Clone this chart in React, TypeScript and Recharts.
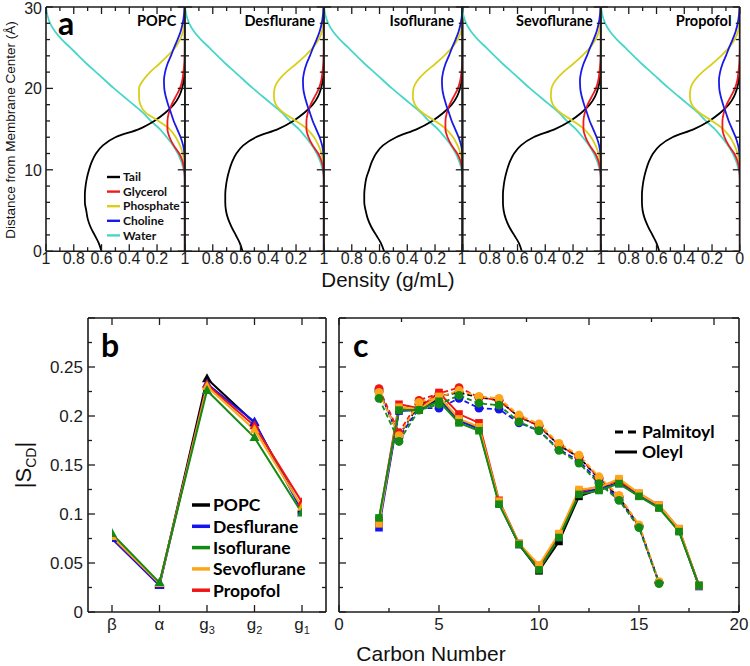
import React from 'react'
import { Line, LineChart, XAxis, YAxis } from 'recharts'

const NUM_FONT = '"Liberation Sans", Arial, Helvetica, sans-serif'
const LABEL_FONT = 'Lato, "Open Sans", sans-serif'
const INK = '#1c1c1c'

// ---------- panel a: density profiles, sampled every 1 Å from the membrane center
const distance = [0, 1, 2, 3, 4, 5, 6, 7, 8, 9, 10, 11, 12, 13, 14, 15, 16, 17, 18, 19, 20, 21, 22, 23, 24, 25, 26, 27, 28, 29, 30]

const waterDensity = [0, 0, 0, 0, 0, 0, 0, 0, 0, 0, 0.008, 0.025, 0.05, 0.085, 0.13, 0.18, 0.245, 0.3, 0.37, 0.44, 0.51, 0.575, 0.64, 0.705, 0.765, 0.825, 0.885, 0.935, 0.97, 0.99, 1.0]
const glycerolDensity = [0, 0, 0, 0, 0, 0, 0, 0, 0, 0, 0.004, 0.015, 0.04, 0.08, 0.11, 0.125, 0.125, 0.115, 0.095, 0.065, 0.035, 0.018, 0.01, 0.004, 0.001, 0, 0, 0, 0, 0, 0]
const cholineDensity = [0, 0, 0, 0, 0, 0, 0, 0, 0, 0, 0, 0, 0.003, 0.012, 0.03, 0.055, 0.08, 0.1, 0.12, 0.137, 0.148, 0.15, 0.142, 0.125, 0.1, 0.077, 0.052, 0.03, 0.015, 0.006, 0.002]
const phosphatePOPC = [0, 0, 0, 0, 0, 0, 0, 0, 0, 0, 0, 0.005, 0.015, 0.035, 0.065, 0.11, 0.19, 0.28, 0.32, 0.33, 0.33, 0.3, 0.25, 0.185, 0.125, 0.07, 0.035, 0.012, 0.003, 0, 0]
const phosphateDrug = [0, 0, 0, 0, 0, 0, 0, 0, 0, 0, 0, 0.005, 0.016, 0.038, 0.07, 0.12, 0.2, 0.29, 0.345, 0.36, 0.355, 0.325, 0.27, 0.2, 0.135, 0.078, 0.038, 0.013, 0.004, 0, 0]

const tailPOPC = [0.6, 0.62, 0.65, 0.68, 0.7, 0.71, 0.72, 0.72, 0.715, 0.705, 0.69, 0.67, 0.64, 0.59, 0.5, 0.33, 0.22, 0.14, 0.08, 0.042, 0.02, 0.008, 0.003, 0, 0, 0, 0, 0, 0, 0, 0]
const tailDesflurane = [0.585, 0.605, 0.635, 0.665, 0.69, 0.705, 0.71, 0.71, 0.705, 0.695, 0.68, 0.66, 0.63, 0.58, 0.49, 0.33, 0.22, 0.14, 0.08, 0.042, 0.02, 0.008, 0.003, 0, 0, 0, 0, 0, 0, 0, 0]
const tailIsoflurane = [0.567, 0.59, 0.625, 0.66, 0.685, 0.7, 0.71, 0.71, 0.705, 0.695, 0.675, 0.655, 0.625, 0.575, 0.48, 0.33, 0.22, 0.14, 0.08, 0.042, 0.02, 0.008, 0.003, 0, 0, 0, 0, 0, 0, 0, 0]
const tailSevoflurane = [0.569, 0.59, 0.625, 0.66, 0.685, 0.7, 0.705, 0.705, 0.7, 0.69, 0.675, 0.655, 0.625, 0.575, 0.485, 0.33, 0.22, 0.14, 0.08, 0.042, 0.02, 0.008, 0.003, 0, 0, 0, 0, 0, 0, 0, 0]
const tailPropofol = [0.58, 0.6, 0.63, 0.66, 0.685, 0.7, 0.705, 0.705, 0.7, 0.69, 0.675, 0.655, 0.625, 0.575, 0.485, 0.33, 0.22, 0.14, 0.08, 0.042, 0.02, 0.008, 0.003, 0, 0, 0, 0, 0, 0, 0, 0]

const densityPanels = [
  { title: 'POPC', tail: tailPOPC, phosphate: phosphatePOPC },
  { title: 'Desflurane', tail: tailDesflurane, phosphate: phosphateDrug },
  { title: 'Isoflurane', tail: tailIsoflurane, phosphate: phosphateDrug },
  { title: 'Sevoflurane', tail: tailSevoflurane, phosphate: phosphateDrug },
  { title: 'Propofol', tail: tailPropofol, phosphate: phosphateDrug },
]

const densityParts = [
  { key: 'tail', name: 'Tail', color: '#000000' },
  { key: 'glycerol', name: 'Glycerol', color: '#ee1c1c' },
  { key: 'phosphate', name: 'Phosphate', color: '#d9cf1a' },
  { key: 'choline', name: 'Choline', color: '#1a1ae6' },
  { key: 'water', name: 'Water', color: '#48d6c8' },
]
const densityDrawOrder = ['water', 'tail', 'phosphate', 'glycerol', 'choline']

const densityTicks = [0, 0.1, 0.2, 0.3, 0.4, 0.5, 0.6, 0.7, 0.8, 0.9, 1]
const distanceTicks = [0, 2, 4, 6, 8, 10, 12, 14, 16, 18, 20, 22, 24, 26, 28, 30]

// ---------- panels b and c: order parameters
const compounds = [
  { name: 'POPC', color: '#000000' },
  { name: 'Desflurane', color: '#1414f0' },
  { name: 'Isoflurane', color: '#138a13' },
  { name: 'Sevoflurane', color: '#ffa51a' },
  { name: 'Propofol', color: '#f01414' },
]
const drawOrderB = ['POPC', 'Desflurane', 'Propofol', 'Sevoflurane', 'Isoflurane']

const headgroupSites = ['β', 'α', 'g3', 'g2', 'g1']
const headPOPC = [0.075, 0.028, 0.238, 0.193, 0.105]
const headDesflurane = [0.075, 0.027, 0.233, 0.194, 0.103]
const headIsoflurane = [0.08, 0.03, 0.226, 0.178, 0.101]
const headSevoflurane = [0.077, 0.029, 0.23, 0.186, 0.107]
const headPropofol = [0.077, 0.029, 0.232, 0.19, 0.112]

const carbons = [2, 3, 4, 5, 6, 7, 8, 9, 10, 11, 12, 13, 14, 15, 16, 17, 18]
const palmitoylPOPC = [0.225, 0.18, 0.212, 0.22, 0.224, 0.219, 0.216, 0.199, 0.19, 0.17, 0.158, 0.136, 0.117, 0.088, 0.03]
const palmitoylDesflurane = [0.227, 0.178, 0.208, 0.208, 0.218, 0.208, 0.207, 0.193, 0.185, 0.166, 0.154, 0.133, 0.115, 0.087, 0.03]
const palmitoylIsoflurane = [0.218, 0.174, 0.206, 0.212, 0.221, 0.213, 0.211, 0.194, 0.185, 0.165, 0.152, 0.131, 0.114, 0.086, 0.029]
const palmitoylSevoflurane = [0.224, 0.18, 0.214, 0.219, 0.226, 0.22, 0.218, 0.201, 0.192, 0.172, 0.16, 0.138, 0.119, 0.089, 0.031]
const palmitoylPropofol = [0.228, 0.183, 0.216, 0.223, 0.229, 0.219, 0.216, 0.199, 0.19, 0.17, 0.158, 0.137, 0.118, 0.088, 0.03]
const oleylPOPC = [0.09, 0.207, 0.206, 0.218, 0.196, 0.188, 0.112, 0.069, 0.042, 0.072, 0.118, 0.125, 0.132, 0.119, 0.107, 0.083, 0.027]
const oleylDesflurane = [0.086, 0.205, 0.206, 0.216, 0.195, 0.187, 0.111, 0.069, 0.044, 0.076, 0.121, 0.126, 0.131, 0.119, 0.107, 0.084, 0.026]
const oleylIsoflurane = [0.096, 0.206, 0.206, 0.215, 0.193, 0.185, 0.11, 0.069, 0.043, 0.076, 0.12, 0.124, 0.131, 0.118, 0.106, 0.082, 0.027]
const oleylSevoflurane = [0.09, 0.209, 0.207, 0.22, 0.197, 0.189, 0.113, 0.07, 0.048, 0.08, 0.125, 0.127, 0.136, 0.121, 0.109, 0.085, 0.027]
const oleylPropofol = [0.094, 0.212, 0.208, 0.224, 0.202, 0.193, 0.114, 0.07, 0.046, 0.079, 0.123, 0.128, 0.134, 0.121, 0.109, 0.085, 0.027]

const headBySeries: Record<string, number[]> = {
  POPC: headPOPC, Desflurane: headDesflurane, Isoflurane: headIsoflurane, Sevoflurane: headSevoflurane, Propofol: headPropofol,
}
const palmitoylBySeries: Record<string, number[]> = {
  POPC: palmitoylPOPC, Desflurane: palmitoylDesflurane, Isoflurane: palmitoylIsoflurane, Sevoflurane: palmitoylSevoflurane, Propofol: palmitoylPropofol,
}
const oleylBySeries: Record<string, number[]> = {
  POPC: oleylPOPC, Desflurane: oleylDesflurane, Isoflurane: oleylIsoflurane, Sevoflurane: oleylSevoflurane, Propofol: oleylPropofol,
}

const orderTicks = [0, 0.025, 0.05, 0.075, 0.1, 0.125, 0.15, 0.175, 0.2, 0.225, 0.25, 0.275, 0.3]
const carbonTicks = [0, 2.5, 5, 7.5, 10, 12.5, 15, 17.5, 20]

// plot boxes (page pixels)
const A = { left: 46, top: 6.5, width: 138.8, height: 244.2 }
const B = { left: 88, top: 318, width: 238, height: 294 }
const C = { left: 339, top: 318, width: 400, height: 294 }

type Side = 'bottom' | 'top' | 'left' | 'right'

// inward tick marks, labels outside the frame
function edgeTick(
  side: Side,
  isMajor: (v: any) => boolean,
  label?: (v: any) => React.ReactNode,
  fontSize = 16,
  gap = 13,
  nudge: (v: any) => number = () => 0,
) {
  return (props: any) => {
    const { x, y, payload } = props
    const v = payload.value
    const len = isMajor(v) ? 7 : 4
    const dx = side === 'left' ? len : side === 'right' ? -len : 0
    const dy = side === 'bottom' ? -len : side === 'top' ? len : 0
    const text = label ? label(v) : null
    return (
      <g>
        <line x1={x} y1={y} x2={x + dx} y2={y + dy} stroke={INK} strokeWidth={1.3} />
        {text != null && side === 'bottom' && (
          <text x={x} y={y + gap} textAnchor="middle" fontFamily={NUM_FONT} fontSize={fontSize} fill={INK}>{text}</text>
        )}
        {text != null && side === 'left' && (
          <text x={x - gap} y={y + nudge(v)} dy="0.36em" textAnchor="end" fontFamily={NUM_FONT} fontSize={fontSize} fill={INK}>{text}</text>
        )}
      </g>
    )
  }
}

// axes are 1px thick so recharts still draws them; margins lose that pixel
const axisBase = { tickSize: 0, tickMargin: 0, interval: 0 as const, allowDataOverflow: true, axisLine: { stroke: INK, strokeWidth: 1.6 }, tickLine: false }

function chartMargin(ml: number, mr: number, mt: number, mb: number) {
  return { left: ml - 1, right: mr - 1, top: mt - 1, bottom: mb - 1 }
}

function DensityPanel({ index }: { index: number }) {
  const panel = densityPanels[index]
  const last = index === densityPanels.length - 1
  const ml = index === 0 ? 44 : 4
  const mr = last ? 10 : 4
  const mt = 6
  const mb = 22
  const rows = distance.map((z, i) => ({
    z,
    tail: panel.tail[i],
    glycerol: glycerolDensity[i],
    phosphate: panel.phosphate[i],
    choline: cholineDensity[i],
    water: waterDensity[i],
  }))
  const densityMajor = (v: number) => Math.round(v * 10) % 2 === 0
  const densityLabel = (v: number) => {
    const t = Math.round(v * 10)
    if (t % 2 !== 0) return null
    if (t === 0) return last ? '0' : null
    return t === 10 ? '1' : String(t / 10)
  }
  const distMajor = (v: number) => v % 10 === 0
  const distLabel = (v: number) => (index === 0 && v % 10 === 0 ? String(v) : null)
  return (
    <div style={{ position: 'absolute', left: A.left + index * A.width - ml, top: A.top - mt }}>
      <LineChart
        layout="vertical"
        width={A.width + ml + mr}
        height={A.height + mt + mb}
        data={rows}
        margin={chartMargin(ml, mr, mt, mb)}
      >
        <XAxis {...axisBase} type="number" domain={[0, 1]} reversed ticks={densityTicks} height={1}
          tick={edgeTick('bottom', densityMajor, densityLabel, 16, 12.5)} />
        <XAxis {...axisBase} xAxisId="top" orientation="top" type="number" domain={[0, 1]} reversed ticks={densityTicks} height={1}
          tick={edgeTick('top', densityMajor)} />
        <YAxis {...axisBase} type="number" dataKey="z" domain={[0, 30]} reversed ticks={distanceTicks} width={1}
          tick={edgeTick('left', distMajor, distLabel, 16, 4, (v) => (v === 30 ? 1.5 : 0))} />
        <YAxis {...axisBase} yAxisId="right" orientation="right" type="number" domain={[0, 30]} reversed ticks={distanceTicks} width={1}
          tick={edgeTick('right', distMajor)} />
        {densityDrawOrder.map((key) => {
          const part = densityParts.find((p) => p.key === key)!
          return (
            <Line key={key} dataKey={key} name={part.name} type="monotone" stroke={part.color} strokeWidth={1.8}
              dot={false} activeDot={false} isAnimationActive={false} />
          )
        })}
      </LineChart>
    </div>
  )
}

const orderMajor = (v: number) => Math.round(v * 1000) % 50 === 0
const orderLabel = (v: number) => {
  const t = Math.round(v * 1000)
  if (t % 50 !== 0 || t === 300) return null
  return t === 0 ? '0' : String(t / 1000)
}

function siteLabel(v: string) {
  if (v.startsWith('g')) {
    return (
      <>
        g<tspan fontSize={11} dy={4}>{v.slice(1)}</tspan>
      </>
    )
  }
  return v
}

const triangleDot = (color: string) => (p: any) => {
  if (p.cx == null || p.cy == null) return <g />
  const { cx, cy } = p
  return <path d={`M${cx},${cy - 5.5} L${cx - 5},${cy + 3.5} L${cx + 5},${cy + 3.5} Z`} fill={color} />
}
const circleDot = (color: string) => (p: any) => {
  if (p.cx == null || p.cy == null) return <g />
  return <circle cx={p.cx} cy={p.cy} r={4.4} fill={color} />
}
const squareDot = (color: string) => (p: any) => {
  if (p.cx == null || p.cy == null) return <g />
  return <rect x={p.cx - 3.8} y={p.cy - 3.8} width={7.6} height={7.6} fill={color} />
}

function HeadgroupPanel() {
  const ml = 50, mr = 6, mt = 6, mb = 26
  const rows = headgroupSites.map((site, i) => {
    const row: Record<string, any> = { site }
    compounds.forEach((c) => { row[c.name] = headBySeries[c.name][i] })
    return row
  })
  const pad = { left: 24, right: 24 }
  return (
    <div style={{ position: 'absolute', left: B.left - ml, top: B.top - mt }}>
      <LineChart width={B.width + ml + mr} height={B.height + mt + mb} data={rows} margin={chartMargin(ml, mr, mt, mb)}>
        <XAxis {...axisBase} type="category" dataKey="site" scale="point" padding={pad} height={1}
          tick={edgeTick('bottom', () => true, siteLabel, 17, 18)} />
        <XAxis {...axisBase} xAxisId="top" orientation="top" type="category" dataKey="site" scale="point" padding={pad} height={1}
          tick={edgeTick('top', () => true)} />
        <YAxis {...axisBase} type="number" domain={[0, 0.3]} ticks={orderTicks} width={1}
          tick={edgeTick('left', orderMajor, orderLabel, 17, 5)} />
        <YAxis {...axisBase} yAxisId="right" orientation="right" type="number" domain={[0, 0.3]} ticks={orderTicks} width={1}
          tick={edgeTick('right', orderMajor)} />
        {drawOrderB.map((name) => {
          const c = compounds.find((x) => x.name === name)!
          return (
            <Line key={name} dataKey={name} type="linear" stroke={c.color} strokeWidth={2}
              dot={triangleDot(c.color)} activeDot={false} isAnimationActive={false} />
          )
        })}
      </LineChart>
    </div>
  )
}

function TailPanel() {
  const ml = 6, mr = 10, mt = 6, mb = 26
  const rows = carbons.map((c, i) => {
    const row: Record<string, any> = { carbon: c }
    compounds.forEach((s) => {
      row[`${s.name}_p`] = palmitoylBySeries[s.name][i]
      row[`${s.name}_o`] = oleylBySeries[s.name][i]
    })
    return row
  })
  const carbonMajor = (v: number) => v % 5 === 0
  const carbonLabel = (v: number) => (v % 5 === 0 ? String(v) : null)
  return (
    <div style={{ position: 'absolute', left: C.left - ml, top: C.top - mt }}>
      <LineChart width={C.width + ml + mr} height={C.height + mt + mb} data={rows} margin={chartMargin(ml, mr, mt, mb)}>
        <XAxis {...axisBase} type="number" dataKey="carbon" domain={[0, 20]} ticks={carbonTicks} height={1}
          tick={edgeTick('bottom', carbonMajor, carbonLabel, 17, 18)} />
        <XAxis {...axisBase} xAxisId="top" orientation="top" type="number" domain={[0, 20]} ticks={carbonTicks} height={1}
          tick={edgeTick('top', carbonMajor)} />
        <YAxis {...axisBase} type="number" domain={[0, 0.3]} ticks={orderTicks} width={1}
          tick={edgeTick('left', orderMajor)} />
        <YAxis {...axisBase} yAxisId="right" orientation="right" type="number" domain={[0, 0.3]} ticks={orderTicks} width={1}
          tick={edgeTick('right', orderMajor)} />
        {drawOrderB.map((name) => {
          const c = compounds.find((x) => x.name === name)!
          return [
            <Line key={`${name}_p`} dataKey={`${name}_p`} type="linear" stroke={c.color} strokeWidth={1.8} strokeDasharray="5 3"
              dot={circleDot(c.color)} activeDot={false} isAnimationActive={false} />,
            <Line key={`${name}_o`} dataKey={`${name}_o`} type="linear" stroke={c.color} strokeWidth={2}
              dot={squareDot(c.color)} activeDot={false} isAnimationActive={false} />,
          ]
        })}
      </LineChart>
    </div>
  )
}

function Annotations() {
  return (
    <svg width={750} height={666} style={{ position: 'absolute', left: 0, top: 0, pointerEvents: 'none' }}>
      {/* panel letters */}
      <text x={58} y={35} fontFamily={LABEL_FONT} fontWeight={700} fontSize={32} fill="#000">a</text>
      <text x={101} y={357} fontFamily={LABEL_FONT} fontWeight={700} fontSize={32} fill="#000">b</text>
      <text x={353} y={357} fontFamily={LABEL_FONT} fontWeight={700} fontSize={32} fill="#000">c</text>

      {/* panel a titles */}
      {densityPanels.map((p, i) => (
        <text key={p.title} x={A.left + (i + 1) * A.width - 8.5} y={26} textAnchor="end"
          fontFamily={LABEL_FONT} fontWeight={700} fontSize={14.5} fill="#000">{p.title}</text>
      ))}

      {/* panel a legend */}
      {densityParts.map((p, i) => (
        <g key={p.key}>
          <line x1={107} x2={120} y1={177 + i * 14.6} y2={177 + i * 14.6} stroke={p.color} strokeWidth={2.4} />
          <text x={123} y={177 + i * 14.6} dy="0.35em" fontFamily={LABEL_FONT} fontWeight={700} fontSize={12} fill="#111">{p.name}</text>
        </g>
      ))}

      {/* axis titles */}
      <text transform="rotate(-90)" x={-130} y={15} textAnchor="middle" fontFamily={NUM_FONT} fontSize={13.5} fill="#111">
        Distance from Membrane Center (Å)
      </text>
      <text x={388} y={287} textAnchor="middle" fontFamily={NUM_FONT} fontSize={20.5} fill="#111">Density (g/mL)</text>
      <text x={431} y={661} textAnchor="middle" fontFamily={NUM_FONT} fontSize={21} fill="#111">Carbon Number</text>
      <text transform="rotate(-90)" x={-465} y={31} textAnchor="middle" fontFamily={NUM_FONT} fontSize={22} fill="#111">
        |S<tspan fontSize={14} dy={5}>CD</tspan><tspan dy={-5}>|</tspan>
      </text>

      {/* panel b legend */}
      {compounds.map((c, i) => (
        <g key={c.name}>
          <line x1={192} x2={210} y1={505 + i * 21.3} y2={505 + i * 21.3} stroke={c.color} strokeWidth={3.5} />
          <text x={213} y={505 + i * 21.3} dy="0.36em" fontFamily={LABEL_FONT} fontWeight={700} fontSize={17.5} fill="#000">{c.name}</text>
        </g>
      ))}

      {/* panel c legend */}
      <line x1={615} x2={637} y1={432} y2={432} stroke="#000" strokeWidth={3} strokeDasharray="8 5" />
      <text x={642} y={432} dy="0.36em" fontFamily={LABEL_FONT} fontWeight={700} fontSize={17.5} fill="#000">Palmitoyl</text>
      <line x1={615} x2={637} y1={452} y2={452} stroke="#000" strokeWidth={3} />
      <text x={642} y={452} dy="0.36em" fontFamily={LABEL_FONT} fontWeight={700} fontSize={17.5} fill="#000">Oleyl</text>
    </svg>
  )
}

export default function App() {
  return (
    <div style={{ position: 'absolute', left: 0, top: 0, width: 750, height: 666, background: '#fff', overflow: 'hidden' }}>
      {densityPanels.map((p, i) => (
        <DensityPanel key={p.title} index={i} />
      ))}
      <HeadgroupPanel />
      <TailPanel />
      <Annotations />
    </div>
  )
}
